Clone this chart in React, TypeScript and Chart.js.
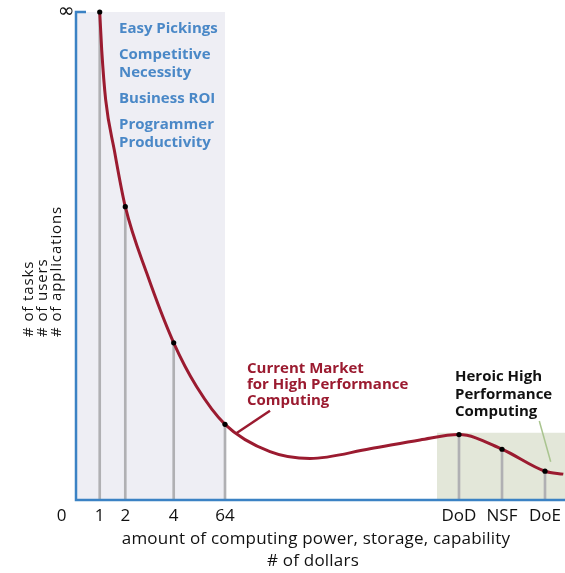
import { useEffect, useRef } from 'react';
import { Chart, registerables } from 'chart.js';
Chart.register(...registerables);

// Categories on the x axis and their positions (abstract 0..100 units)
const xCategories = ['1', '2', '4', '64', 'DoD', 'NSF', 'DoE'];
const xPositions = [4.85, 10.08, 19.98, 30.47, 78.32, 87.12, 95.91];
// Value (0..100, 100 = infinity) at each category point
const pointValues = [100, 60.1, 32.2, 15.5, 13.4, 10.4, 5.9];

// Points
const curveX = [4.85, 5.26, 6.07, 7.83, 10.08, 14.46, 19.98, 24.68, 30.47, 39.67, 47.85, 60.12, 70.35, 78.32, 87.12, 95.91, 99.65];
const curveY = [100, 92.2, 82.0, 71.7, 60.1, 46.5, 32.2, 23.2, 15.5, 9.9, 8.5, 10.5, 12.3, 13.4, 10.4, 5.9, 5.3];

// Shaded regions [xStart, xEnd, top]
const easyRegion = [0, 30.47, 100];
const heroicRegion = [73.8, 100, 13.8];

const blueLabels = [['Easy Pickings'], ['Competitive', 'Necessity'], ['Business ROI'], ['Programmer', 'Productivity']];
const marketLabel = ['Current Market', 'for High Performance', 'Computing'];
const heroicLabel = ['Heroic High', 'Performance', 'Computing'];
const yTitle = ['# of tasks', '# of users', '# of applications'];
const xTitle = ['amount of computing power, storage, capability', '# of dollars'];

export default function App() {
  const ref = useRef<HTMLCanvasElement>(null);
  useEffect(() => {
    const canvas = ref.current!;
    const annot = {
      id: 'annot',
      afterDatasetsDraw(chart: any) {
        const ctx = chart.ctx as CanvasRenderingContext2D;
        const xs = chart.scales.x;
        const ys = chart.scales.y;
        const left = xs.getPixelForValue(0);
        const right = xs.getPixelForValue(100);
        const top = ys.getPixelForValue(100);
        const bottom = ys.getPixelForValue(0);
        ctx.save();
        // axes
        ctx.strokeStyle = '#3b82c4';
        ctx.lineWidth = 2.5;
        ctx.beginPath();
        ctx.moveTo(left + 10, top);
        ctx.lineTo(left, top);
        ctx.lineTo(left, bottom);
        ctx.lineTo(right, bottom);
        ctx.stroke();

        // pointer lines
        ctx.strokeStyle = '#9b1b30';
        ctx.lineWidth = 2.5;
        ctx.beginPath();
        ctx.moveTo(236.7, 433);
        ctx.lineTo(270, 410.7);
        ctx.stroke();
        ctx.strokeStyle = '#a9c48f';
        ctx.lineWidth = 1.5;
        ctx.beginPath();
        ctx.moveTo(539.3, 421);
        ctx.lineTo(550.7, 461.7);
        ctx.stroke();

        // tick labels
        ctx.fillStyle = '#111';
        ctx.font = '17px "Open Sans"';
        ctx.textAlign = 'center';
        ctx.textBaseline = 'alphabetic';
        ctx.fillText('0', left - 14.3, 521);
        xCategories.forEach((c, i) => {
          ctx.fillText(c, xs.getPixelForValue(xPositions[i]), 521);
        });
        ctx.font = '20px "DejaVu Sans"';
        ctx.textBaseline = 'middle';
        ctx.fillText('∞', left - 10, top);

        // x title
        ctx.font = '17px "Open Sans"';
        ctx.textBaseline = 'alphabetic';
        (ctx as any).letterSpacing = '0.2px';
        ctx.fillText(xTitle[0], 316, 544);
        ctx.fillText(xTitle[1], 313, 566);

        // y title
        ctx.save();
        ctx.translate(0, 337);
        ctx.rotate(-Math.PI / 2);
        ctx.textAlign = 'left';
        ctx.font = '15px "Open Sans"';
        (ctx as any).letterSpacing = '0.9px';
        const yBase = [33, 47, 60.5];
        yTitle.forEach((t, i) => ctx.fillText(t, 0, yBase[i]));
        ctx.restore();
        (ctx as any).letterSpacing = '0px';

        // blue labels
        ctx.textAlign = 'left';
        ctx.font = 'bold 15px "Open Sans"';
        ctx.fillStyle = '#4a88c7';
        let y = 33;
        blueLabels.forEach((g) => {
          g.forEach((t, j) => {
            ctx.fillText(t, 119, y);
            y += j < g.length - 1 ? 18 : 26;
          });
        });
        // market label
        ctx.fillStyle = '#9b1b30';
        marketLabel.forEach((t, i) => ctx.fillText(t, 247, 373 + i * 16.2));
        // heroic label
        ctx.fillStyle = '#111';
        heroicLabel.forEach((t, i) => ctx.fillText(t, 455, 381 + i * 17.7));
        ctx.restore();
      },
    };

    const chart = new Chart(canvas, {
      type: 'line',
      data: {
        datasets: [
          {
            type: 'scatter',
            data: xPositions.map((x, i) => ({ x, y: pointValues[i] })),
            pointRadius: 2.6,
            pointBackgroundColor: '#000',
            pointBorderWidth: 0,
            showLine: false,
            clip: false,
            order: 1,
          } as any,
          {
            type: 'line',
            data: curveX.map((x, i) => ({ x, y: curveY[i] })),
            borderColor: '#9b1b30',
            borderWidth: 3,
            pointRadius: 0,
            cubicInterpolationMode: 'monotone',
            fill: false,
            clip: false,
            order: 2,
          },
          {
            type: 'bar',
            data: xPositions.map((x, i) => ({ x, y: pointValues[i] })),
            backgroundColor: '#b0b0b3',
            barThickness: 2,
            order: 3,
          } as any,
          {
            type: 'line',
            data: [
              { x: easyRegion[0], y: easyRegion[2] },
              { x: easyRegion[1], y: easyRegion[2] },
            ],
            borderWidth: 0,
            pointRadius: 0,
            backgroundColor: '#eeeef4',
            fill: 'origin',
            order: 4,
          },
          {
            type: 'line',
            data: [
              { x: heroicRegion[0], y: heroicRegion[2] },
              { x: heroicRegion[1], y: heroicRegion[2] },
            ],
            borderWidth: 0,
            pointRadius: 0,
            backgroundColor: '#e3e7d9',
            fill: 'origin',
            order: 5,
          },
        ],
      },
      options: {
        animation: false,
        responsive: false,
        devicePixelRatio: 1,
        layout: { autoPadding: false, padding: { left: 76, top: 12, right: 0, bottom: 73 } },
        scales: {
          x: { type: 'linear', min: 0, max: 100, display: false, offset: false },
          y: { type: 'linear', min: 0, max: 100, display: false },
        },
        plugins: { legend: { display: false }, tooltip: { enabled: false } },
      },
      plugins: [annot],
    });
    return () => chart.destroy();
  }, []);
  return (
    <div style={{ position: 'absolute', left: 0, top: 0, width: 565, height: 573, background: '#fff' }}>
      <canvas ref={ref} width={565} height={573} style={{ display: 'block' }} />
    </div>
  );
}
